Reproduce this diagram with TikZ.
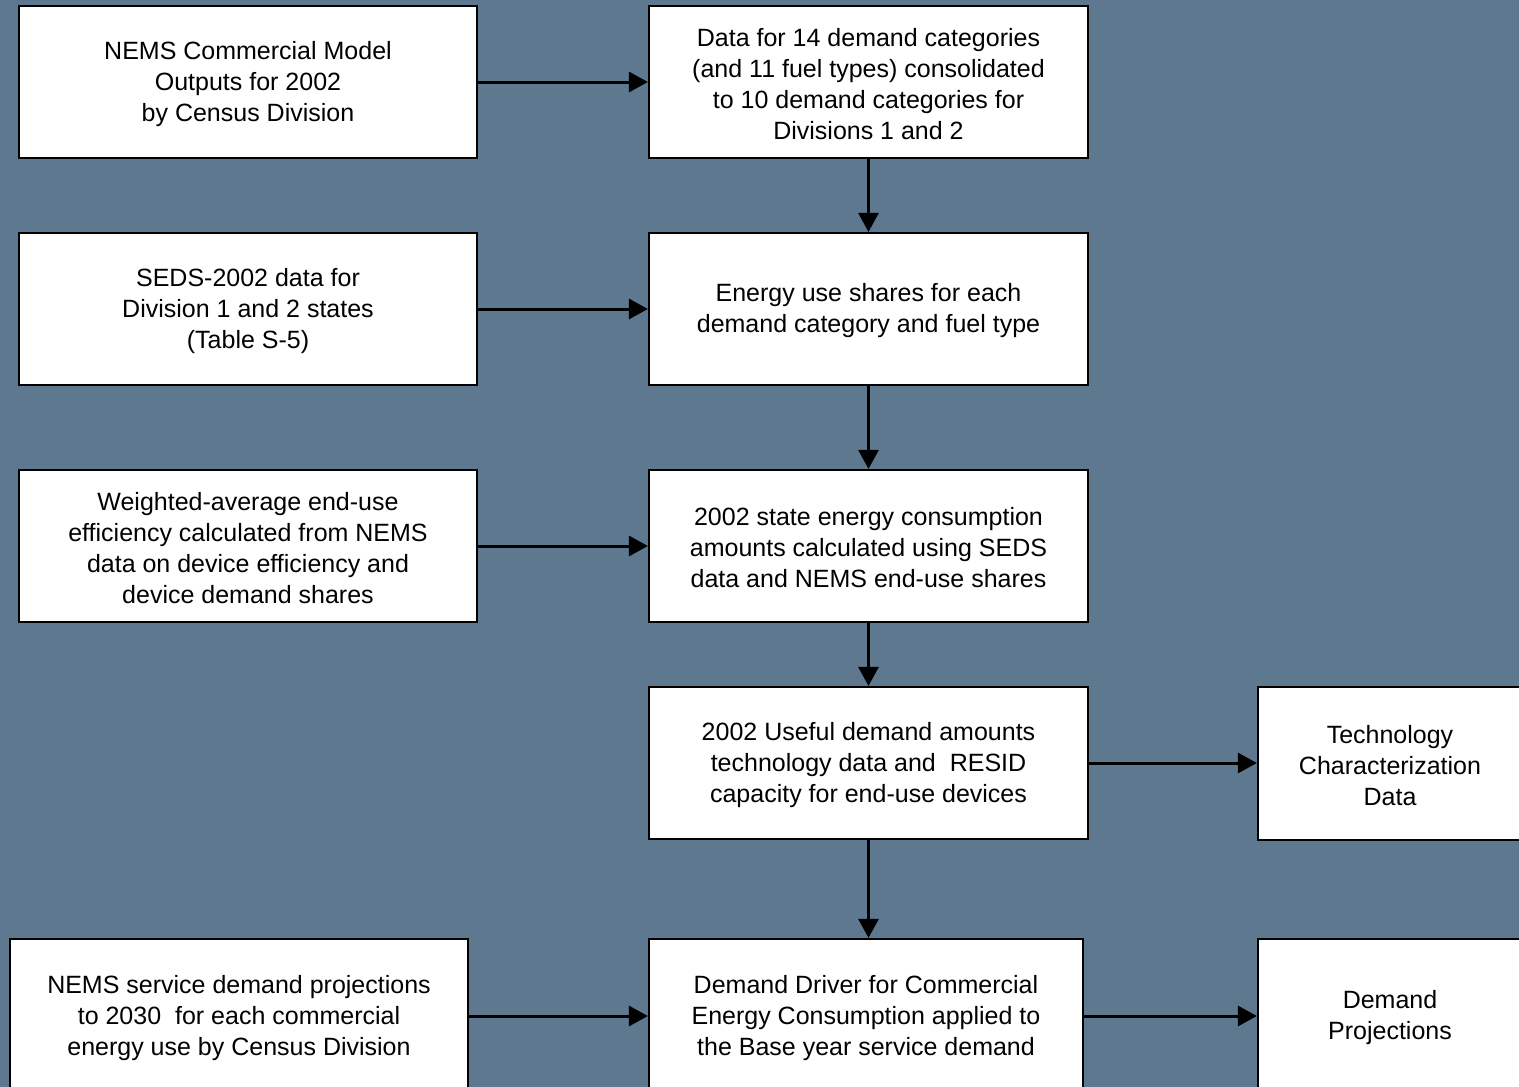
\documentclass[tikz,border=0pt]{standalone}
\usepackage{fontspec}
\setmainfont{Liberation Sans}
\usetikzlibrary{arrows.meta}
\definecolor{bg}{RGB}{93,120,143}
\tikzset{
  box/.style={draw=black, line width=2.2pt, fill=white, align=center,
    font=\fontsize{25}{31}\selectfont, inner sep=0pt},
  lbl/.style={font=\fontsize{25}{31}\selectfont, align=center},
  arr/.style={line width=3pt, -{Triangle[length=19pt,width=20pt]}}
}
\begin{document}
\begin{tikzpicture}[x=1pt,y=-1pt]
\useasboundingbox (0,0) rectangle (1519,1087);
\clip (0,0) rectangle (1519,1087);
\fill[bg] (0,0) rectangle (1519,1087);
% boxes
\node[box, minimum width=458pt, minimum height=152pt] (A) at (248,82) {};
\node[lbl] (At) at (248,84) {NEMS Commercial Model\\Outputs for 2002\\by Census Division};
\node[box, minimum width=439pt, minimum height=152pt] (B) at (868.5,82) {};
\node[lbl] (Bt) at (868.5,84) {Data for 14 demand categories\\(and 11 fuel types) consolidated\\to 10 demand categories for\\Divisions 1 and 2};
\node[box, minimum width=458pt, minimum height=152pt] (C) at (248,309) {};
\node[lbl] (Ct) at (248,311) {SEDS-2002 data for\\Division 1 and 2 states\\(Table S-5)};
\node[box, minimum width=439pt, minimum height=152pt] (D) at (868.5,309) {};
\node[lbl] (Dt) at (868.5,311) {Energy use shares for each\\demand category and fuel type};
\node[box, minimum width=458pt, minimum height=152pt] (E) at (248,546) {};
\node[lbl] (Et) at (248,548) {Weighted-average end-use\\efficiency calculated from NEMS\\data on device efficiency and\\device demand shares};
\node[box, minimum width=439pt, minimum height=152pt] (F) at (868.5,546) {};
\node[lbl] (Ft) at (868.5,548) {2002 state energy consumption\\amounts calculated using SEDS\\data and NEMS end-use shares};
\node[box, minimum width=439pt, minimum height=152pt] (G) at (868.5,763) {};
\node[lbl] (Gt) at (868.5,765) {2002 Useful demand amounts\\technology data and\ \ RESID\\capacity for end-use devices};
\node[box, minimum width=270pt, minimum height=153pt] (H) at (1393,763.5) {};
\node[lbl] (Ht) at (1390,765.5) {Technology\\Characterization\\Data};
\node[box, minimum width=458pt, minimum height=154pt] (I) at (239,1016) {};
\node[lbl] (It) at (239,1018) {NEMS service demand projections\\to 2030\ \ for each commercial\\energy use by Census Division};
\node[box, minimum width=434pt, minimum height=154pt] (J) at (866,1016) {};
\node[lbl] (Jt) at (866,1018) {Demand Driver for Commercial\\Energy Consumption applied to\\the Base year service demand};
\node[box, minimum width=270pt, minimum height=154pt] (K) at (1393,1016) {};
\node[lbl] (Kt) at (1390,1018) {Demand\\Projections};
% connectors
\draw[arr] (A.east) -- (A.east -| B.west);
\draw[arr] (B.south) -- (D.north);
\draw[arr] (C.east) -- (C.east -| D.west);
\draw[arr] (D.south) -- (F.north);
\draw[arr] (E.east) -- (E.east -| F.west);
\draw[arr] (F.south) -- (G.north);
\draw[arr] (G.east) -- (G.east -| H.west);
\draw[arr] (G.south) -- (G.south |- J.north);
\draw[arr] (I.east) -- (I.east -| J.west);
\draw[arr] (J.east) -- (J.east -| K.west);
\end{tikzpicture}
\end{document}
